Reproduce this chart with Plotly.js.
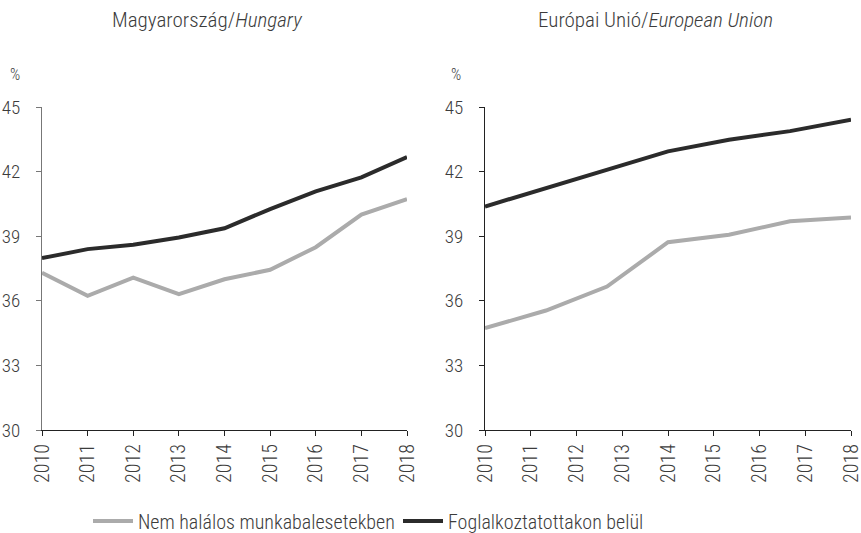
<!DOCTYPE html>
<html>
<head>
<meta charset="utf-8">
<script src="https://cdn.plot.ly/plotly-3.0.1.min.js"></script>
<style>html,body{margin:0;padding:0;background:#fff;}#chart{width:861px;height:533px;}</style>
</head>
<body>
<div id="chart"></div>
<script>
// Hungary (annual)
const huYears = [2010, 2011, 2012, 2013, 2014, 2015, 2016, 2017, 2018];
const huNonFatal = [37.3, 36.23, 37.08, 36.31, 37.0, 37.44, 38.49, 40.0, 40.72];
const huEmployed = [37.98, 38.4, 38.6, 38.94, 39.37, 40.26, 41.08, 41.73, 42.68];
// European Union (points as positioned in the source)
const euYears = [2010, 2011.333, 2012.667, 2014, 2015.333, 2016.667, 2018];
const euNonFatal = [34.73, 35.55, 36.66, 38.72, 39.07, 39.69, 39.87];
const euEmployed = [40.38, 41.22, 42.09, 42.94, 43.48, 43.88, 44.41];
const yearTicks = [2010, 2011, 2012, 2013, 2014, 2015, 2016, 2017, 2018];
const yTicks = [30, 33, 36, 39, 42, 45];
const seriesNames = ["Nem halálos munkabalesetekben", "Foglalkoztatottakon belül"];
const panelTitles = ["Magyarország/<i>Hungary</i>", "Európai Unió/<i>European Union</i>"];

const FONT = "'Roboto Condensed', 'Roboto', sans-serif";
const W = 300;
const grey = "#ababab", dark = "#2b2b2b", txt = "#3c3c3c";

const traces = [
  {x: huYears, y: huNonFatal, xaxis: "x", yaxis: "y", mode: "lines", name: seriesNames[0], line: {color: grey, width: 4}, showlegend: true},
  {x: huYears, y: huEmployed, xaxis: "x", yaxis: "y", mode: "lines", name: seriesNames[1], line: {color: dark, width: 4}, showlegend: true},
  {x: euYears, y: euNonFatal, xaxis: "x2", yaxis: "y2", mode: "lines", name: seriesNames[0], line: {color: grey, width: 4}, showlegend: false},
  {x: euYears, y: euEmployed, xaxis: "x2", yaxis: "y2", mode: "lines", name: seriesNames[1], line: {color: dark, width: 4}, showlegend: false}
];

function xa(domain, anchor) {
  return {domain: domain, anchor: anchor, range: [2010, 2018], tickvals: yearTicks, ticktext: yearTicks.map(String),
    tickangle: -90, ticks: "outside", ticklen: 5, tickcolor: "#222", showline: true, linecolor: "#222", linewidth: 1,
    showgrid: false, zeroline: false, automargin: false, ticklabeloverflow: "allow",
    tickfont: {family: FONT, size: 20, weight: W, color: txt}};
}
function ya(anchor, lc) {
  return {domain: [0, 1], anchor: anchor, range: [30, 45], tickvals: yTicks, ticks: "outside", ticklen: 5,
    tickcolor: lc, showline: true, linecolor: lc, linewidth: 1, showgrid: false, zeroline: false,
    automargin: false, ticklabelstandoff: 12, tickfont: {family: FONT, size: 19, weight: W, color: txt}};
}

const layout = {
  width: 861, height: 533,
  margin: {l: 0, r: 0, t: 107, b: 103},
  paper_bgcolor: "#fff", plot_bgcolor: "#fff",
  font: {family: FONT, color: txt, weight: W},
  xaxis: xa([42/861, 407/861], "y"),
  yaxis: ya("x", "#777"),
  xaxis2: xa([485/861, 851/861], "y2"),
  yaxis2: ya("x2", "#222"),
  showlegend: true,
  legend: {orientation: "h", xref: "container", yref: "container", x: 88/861, xanchor: "left", y: 12/533, yanchor: "middle",
    entrywidth: 255, entrywidthmode: "pixels", font: {family: FONT, size: 20, weight: W, color: txt}, itemwidth: 40},
  annotations: [
    {text: panelTitles[0], xref: "paper", yref: "paper", x: 207/861, y: 1.27, xanchor: "center", yanchor: "middle", showarrow: false, font: {family: FONT, size: 21, weight: W, color: txt}},
    {text: panelTitles[1], xref: "paper", yref: "paper", x: 655/861, y: 1.27, xanchor: "center", yanchor: "middle", showarrow: false, font: {family: FONT, size: 21, weight: W, color: txt}},
    {text: "%", xref: "paper", yref: "paper", x: 15/861, y: 1.1, xanchor: "center", yanchor: "middle", showarrow: false, font: {family: FONT, size: 16, weight: W, color: txt}},
    {text: "%", xref: "paper", yref: "paper", x: 456/861, y: 1.1, xanchor: "center", yanchor: "middle", showarrow: false, font: {family: FONT, size: 16, weight: W, color: txt}}
  ]
};

Plotly.newPlot("chart", traces, layout, {displayModeBar: false, staticPlot: true});
</script>
</body>
</html>
